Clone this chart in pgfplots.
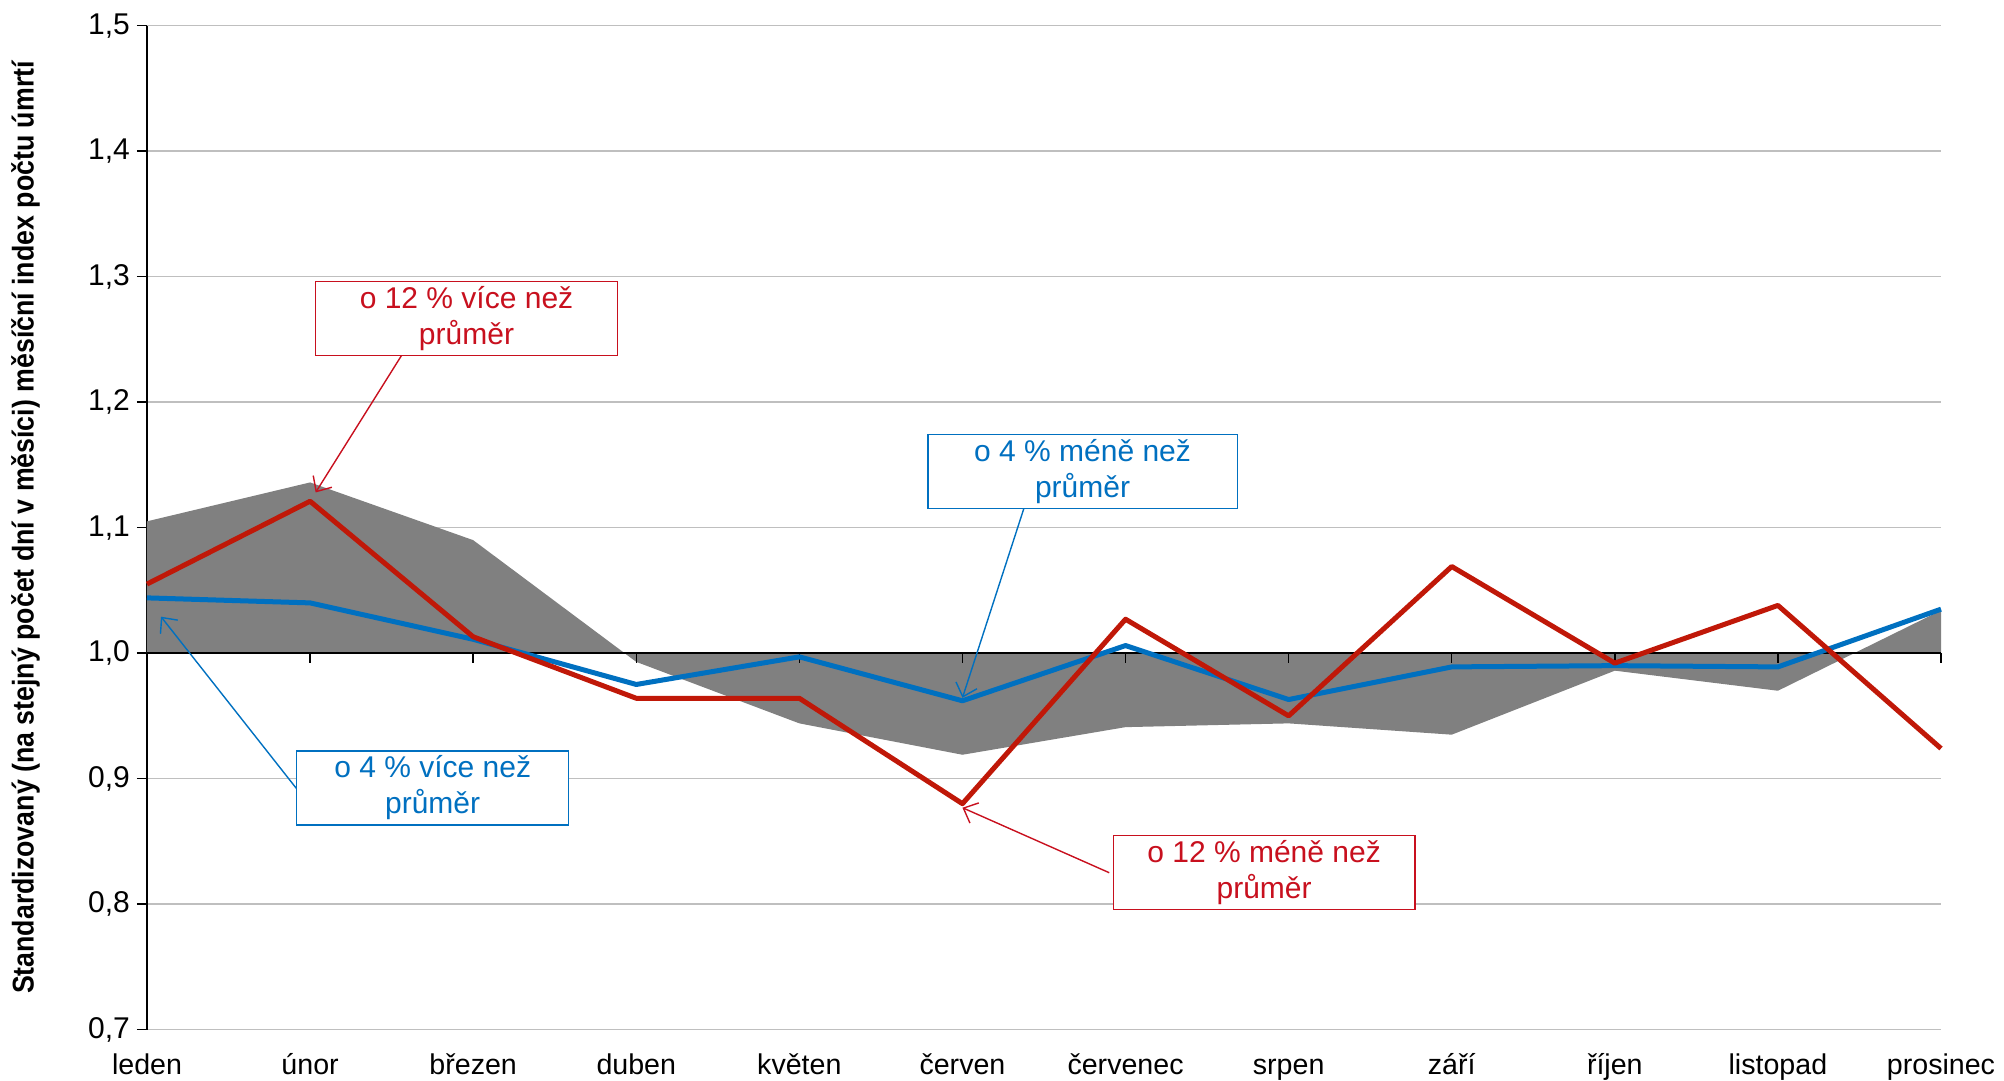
\documentclass[border=0pt]{standalone}
\usepackage{pgfplots}
\pgfplotsset{compat=1.18}
\usepackage{fontspec}
\setmainfont{Liberation Sans}
\usetikzlibrary{arrows.meta}
\definecolor{redl}{RGB}{192,24,8}
\definecolor{bluel}{RGB}{0,112,192}
\definecolor{redt}{RGB}{200,16,30}
\definecolor{gridc}{RGB}{191,191,191}
\definecolor{areac}{RGB}{128,128,128}

\pgfplotstableread{
x  area   blue   red
0  1.105  1.044  1.055
1  1.136  1.040  1.121
2  1.090  1.011  1.013
3  0.993  0.975  0.964
4  0.944  0.997  0.964
5  0.919  0.962  0.880
6  0.941  1.006  1.027
7  0.944  0.963  0.950
8  0.935  0.989  1.069
9  0.986  0.990  0.992
10 0.970  0.989  1.038
11 1.034  1.035  0.924
}\datatable

\begin{document}
\begin{tikzpicture}
\begin{axis}[
  at={(0,0)}, anchor=south west,
  scale only axis, width=897pt, height=502pt,
  xmin=0, xmax=11, ymin=0.7, ymax=1.5,
  clip=false,
  xtick={0,1,2,3,4,5,6,7,8,9,10,11},
  xticklabels={leden,únor,březen,duben,květen,červen,červenec,srpen,září,říjen,listopad,prosinec},
  ytick={0.7,0.8,0.9,1.0,1.1,1.2,1.3,1.4,1.5},
  ymajorgrids, grid style={gridc, line width=0.75pt},
  axis x line*=bottom, x axis line style={draw=none},
  axis y line*=left, y axis line style={black, line width=0.75pt, -},
  x tick style={draw=none},
  y tick style={black, line width=0.75pt},
  tick align=outside, major tick length=5pt,
  yticklabel style={font=\fontsize{15}{18}\selectfont},
  xticklabel style={font=\fontsize{14.3}{17}\selectfont, anchor=base, yshift=-17.5pt},
  /pgf/number format/use comma,
  /pgf/number format/fixed,
  /pgf/number format/fixed zerofill,
  /pgf/number format/precision=1,
  /pgf/number format/assume math mode=true,
]
\addplot[fill=areac, draw=none] table[x=x, y=area] {\datatable} -- (axis cs:11,1) -- (axis cs:0,1) -- cycle;
\addplot[black, line width=0.75pt] coordinates {(0,1) (11,1)};
\pgfplotsinvokeforeach{0,...,11}{\draw[black, line width=0.75pt] (axis cs:#1,1) -- ++(0pt,-5pt);}
\addplot[bluel, line width=2.5pt, line join=round] table[x=x, y=blue] {\datatable};
\addplot[redl, line width=2.5pt, line join=round] table[x=x, y=red] {\datatable};

% annotations
\begin{scope}[every node/.style={font=\fontsize{15}{18}\selectfont, align=center, fill=white, line width=0.65pt, minimum height=37pt, inner sep=2pt}]
\draw[redt, line width=0.7pt, -{Straight Barb[length=6pt,width=11pt]}] (axis cs:1.56,1.237) -- (axis cs:1.034,1.128);
\node[draw=redt, text=redt, minimum width=150.8pt] at (axis cs:1.959,1.2667) {o 12 \% více než\\průměr};

\draw[bluel, line width=0.7pt, -{Straight Barb[length=6pt,width=11pt]}] (axis cs:5.376,1.115) -- (axis cs:5.0,0.9644);
\node[draw=bluel, text=bluel, minimum width=154.7pt] at (axis cs:5.7365,1.1445) {o 4 \% méně než\\průměr};

\draw[bluel, line width=0.7pt, -{Straight Barb[length=6pt,width=11pt]}] (axis cs:0.917,0.892) -- (axis cs:0.086,1.029);
\node[draw=bluel, text=bluel, minimum width=136pt] at (axis cs:1.7515,0.8926) {o 4 \% více než\\průměr};

\draw[redt, line width=0.7pt, -{Straight Barb[length=6pt,width=11pt]}] (axis cs:5.90,0.825) -- (axis cs:5.0,0.8768);
\node[draw=redt, text=redt, minimum width=150.8pt] at (axis cs:6.8495,0.8249) {o 12 \% méně než\\průměr};
\end{scope}
\end{axis}
\node[rotate=90, font=\bfseries\fontsize{15}{17}\selectfont] at (-60.7pt,251pt) {\scalebox{0.891}[1]{Standardizovaný (na stejný počet dní v měsíci) měsíční index počtu úmrtí}};
\pgfresetboundingbox
\useasboundingbox (-73.5pt,-25.5pt) rectangle (928.5pt,514.8pt);
\end{tikzpicture}
\end{document}
